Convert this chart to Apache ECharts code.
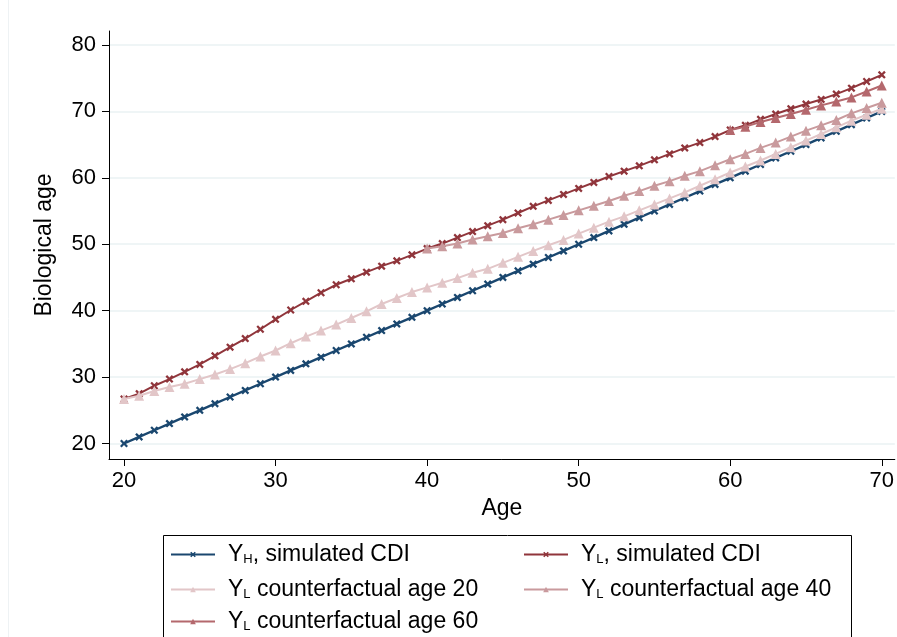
<!DOCTYPE html>
<html>
<head>
<meta charset="utf-8">
<script src="https://cdn.jsdelivr.net/npm/echarts@6/dist/echarts.min.js"></script>
<style>
  html, body { margin: 0; padding: 0; background: #ffffff; }
  #chart { width: 897px; height: 637px; }
</style>
</head>
<body>
<div id="chart"></div>
<script>
// Chronological age (x) for every simulated point
const ages = [20, 21, 22, 23, 24, 25, 26, 27, 28, 29,
              30, 31, 32, 33, 34, 35, 36, 37, 38, 39,
              40, 41, 42, 43, 44, 45, 46, 47, 48, 49,
              50, 51, 52, 53, 54, 55, 56, 57, 58, 59,
              60, 61, 62, 63, 64, 65, 66, 67, 68, 69, 70];

// Biological age, high-status group, simulated CDI
const yH = [20, 21, 22, 23, 24, 25, 26, 27, 28, 29,
            30, 31, 32, 33, 34, 35, 36, 37, 38, 39,
            40, 41, 42, 43, 44, 45, 46, 47, 48, 49,
            50, 51, 52, 53, 54, 55, 56, 57, 58, 59,
            60, 61, 62, 63, 64, 65, 66, 67, 68, 69, 70];

// Biological age, low-status group, simulated CDI
const yL = [26.7, 27.5, 28.7, 29.7, 30.8, 31.9, 33.2, 34.5, 35.8, 37.2,
            38.7, 40.1, 41.4, 42.7, 43.9, 44.8, 45.8, 46.7, 47.5, 48.4,
            49.35, 50.1, 51.0, 51.9, 52.8, 53.7, 54.7, 55.7, 56.6, 57.5,
            58.4, 59.3, 60.2, 61.0, 61.8, 62.7, 63.6, 64.5, 65.3, 66.2,
            67.2, 67.9, 68.8, 69.6, 70.4, 71.1, 71.8, 72.6, 73.5, 74.5, 75.5];

// Low-status group, counterfactual from age 20
const cf20 = [26.7, 27.2, 27.9, 28.5, 29.0, 29.7, 30.4, 31.2, 32.1, 33.1,
              34.0, 35.1, 36.1, 37.0, 37.9, 38.9, 39.9, 41.0, 41.9, 42.8,
              43.5, 44.2, 44.9, 45.7, 46.3, 47.2, 48.1, 49.0, 49.85, 50.65,
              51.6, 52.5, 53.4, 54.2, 55.1, 56.0, 56.9, 57.8, 58.8, 59.8,
              60.8, 61.7, 62.6, 63.6, 64.6, 65.6, 66.6, 67.6, 68.6, 69.5, 70.4];

// Low-status group, counterfactual from age 40 (values for ages 40..70)
const cf40Start = 40;
const cf40 = [49.35, 49.7, 50.1, 50.7, 51.2, 51.7, 52.4, 53.0, 53.7, 54.4,
              55.1, 55.8, 56.5, 57.3, 58.0, 58.8, 59.5, 60.3, 61.0, 61.9,
              62.8, 63.6, 64.5, 65.3, 66.2, 67.1, 67.9, 68.7, 69.7, 70.5, 71.3];

// Low-status group, counterfactual from age 60 (values for ages 60..70)
const cf60Start = 60;
const cf60 = [67.2, 67.7, 68.4, 69.0, 69.6, 70.25, 70.9, 71.5, 72.1, 73.0, 73.9];

const xTicks = [20, 30, 40, 50, 60, 70];
const yTicks = [20, 30, 40, 50, 60, 70, 80];

// Legend label pieces: main letter, subscript, remainder
const labelParts = [
  ['Y', 'H', ', simulated CDI'],
  ['Y', 'L', ', simulated CDI'],
  ['Y', 'L', ' counterfactual age 20'],
  ['Y', 'L', ' counterfactual age 40'],
  ['Y', 'L', ' counterfactual age 60']
];
const seriesNames = labelParts.map(p => p.join(''));

const colors = ['#1a476f', '#90353b', '#e2c6c8', '#c99a9d', '#b4686d'];

const FONT = '"Liberation Sans", Arial, sans-serif';
const FS = 22;
const FS_TITLE = 23;

function pairs(startAge, vals) {
  const i0 = ages.indexOf(startAge);
  return vals.map((v, i) => [ages[i0 + i], v]);
}

const crossPath = 'path://M0,2L2,0L5,3L8,0L10,2L7,5L10,8L8,10L5,7L2,10L0,8L3,5Z';

const seriesData = [
  pairs(20, yH),
  pairs(20, yL),
  pairs(20, cf20),
  pairs(cf40Start, cf40),
  pairs(cf60Start, cf60)
];
const symbols = [crossPath, crossPath, 'triangle', 'triangle', 'triangle'];
const symbolSizes = [8, 8, 10, 10, 10];

const series = seriesData.map((d, i) => ({
  name: seriesNames[i],
  type: 'line',
  data: d,
  symbol: symbols[i],
  symbolSize: symbolSizes[i],
  showAllSymbol: true,
  lineStyle: { color: colors[i], width: i === 0 ? 2.4 : 2 },
  itemStyle: { color: colors[i] },
  emphasis: { disabled: true },
  animation: false,
  z: 2 + i
}));

const legendSlots = [[170, 554], [523, 554], [170, 589], [523, 589], [170, 621]];
const legends = seriesNames.map((n, i) => ({
  data: [n],
  left: legendSlots[i][0],
  top: legendSlots[i][1] - 11,
  padding: 0,
  itemWidth: 44,
  itemHeight: 7,
  selectedMode: false,
  formatter: name => {
    const p = labelParts[seriesNames.indexOf(name)];
    return '{g|}{m|' + p[0] + '}{s|' + p[1] + '}{m|' + p[2] + '}';
  },
  textStyle: {
    fontFamily: FONT,
    color: '#000',
    rich: {
      g: { width: 8 },
      m: { fontFamily: FONT, fontSize: FS_TITLE, color: '#000', lineHeight: 22, verticalAlign: 'middle' },
      s: { fontFamily: FONT, fontSize: 13, color: '#000', lineHeight: 22, verticalAlign: 'bottom' }
    }
  }
}));

const chart = echarts.init(document.getElementById('chart'), null, { renderer: 'canvas' });
chart.setOption({
  backgroundColor: '#ffffff',
  animation: false,
  grid: { left: 109, right: 0, top: 31, bottom: 178, containLabel: false },
  xAxis: {
    type: 'value',
    min: 19.01,
    max: 70.86,
    name: 'Age',
    nameLocation: 'middle',
    nameGap: 37,
    nameTextStyle: { fontFamily: FONT, fontSize: FS_TITLE, color: '#000' },
    axisLine: { show: true, onZero: false, lineStyle: { color: '#000', width: 1 } },
    axisTick: { show: true, length: 7, customValues: xTicks, lineStyle: { color: '#000', width: 1 } },
    axisLabel: { customValues: xTicks, margin: 11,
                 fontFamily: FONT, fontSize: FS, color: '#000' },
    splitLine: { show: false }
  },
  yAxis: {
    type: 'value',
    min: 17.67,
    max: 82.1,
    name: 'Biological age',
    nameLocation: 'middle',
    nameGap: 53,
    nameRotate: 90,
    nameTextStyle: { fontFamily: FONT, fontSize: FS_TITLE, color: '#000' },
    axisLine: { show: true, onZero: false, lineStyle: { color: '#000', width: 1 } },
    axisTick: { show: true, length: 7, customValues: yTicks, lineStyle: { color: '#000', width: 1 } },
    axisLabel: { customValues: yTicks, margin: 13,
                 fontFamily: FONT, fontSize: FS, color: '#000' },
    splitLine: { show: true, lineStyle: { color: '#eaf2f3', width: 1.5 } }
  },
  legend: legends,
  graphic: [
    { type: 'rect', silent: true, z: 10,
      shape: { x: 163.5, y: 535.5, width: 688, height: 130 },
      style: { fill: 'none', stroke: '#000', lineWidth: 1 } },
    { type: 'line', silent: true, z: 0,
      shape: { x1: 8.5, y1: 0, x2: 8.5, y2: 637 },
      style: { stroke: '#eef2f4', lineWidth: 1 } }
  ],
  series: series
});
</script>
</body>
</html>
